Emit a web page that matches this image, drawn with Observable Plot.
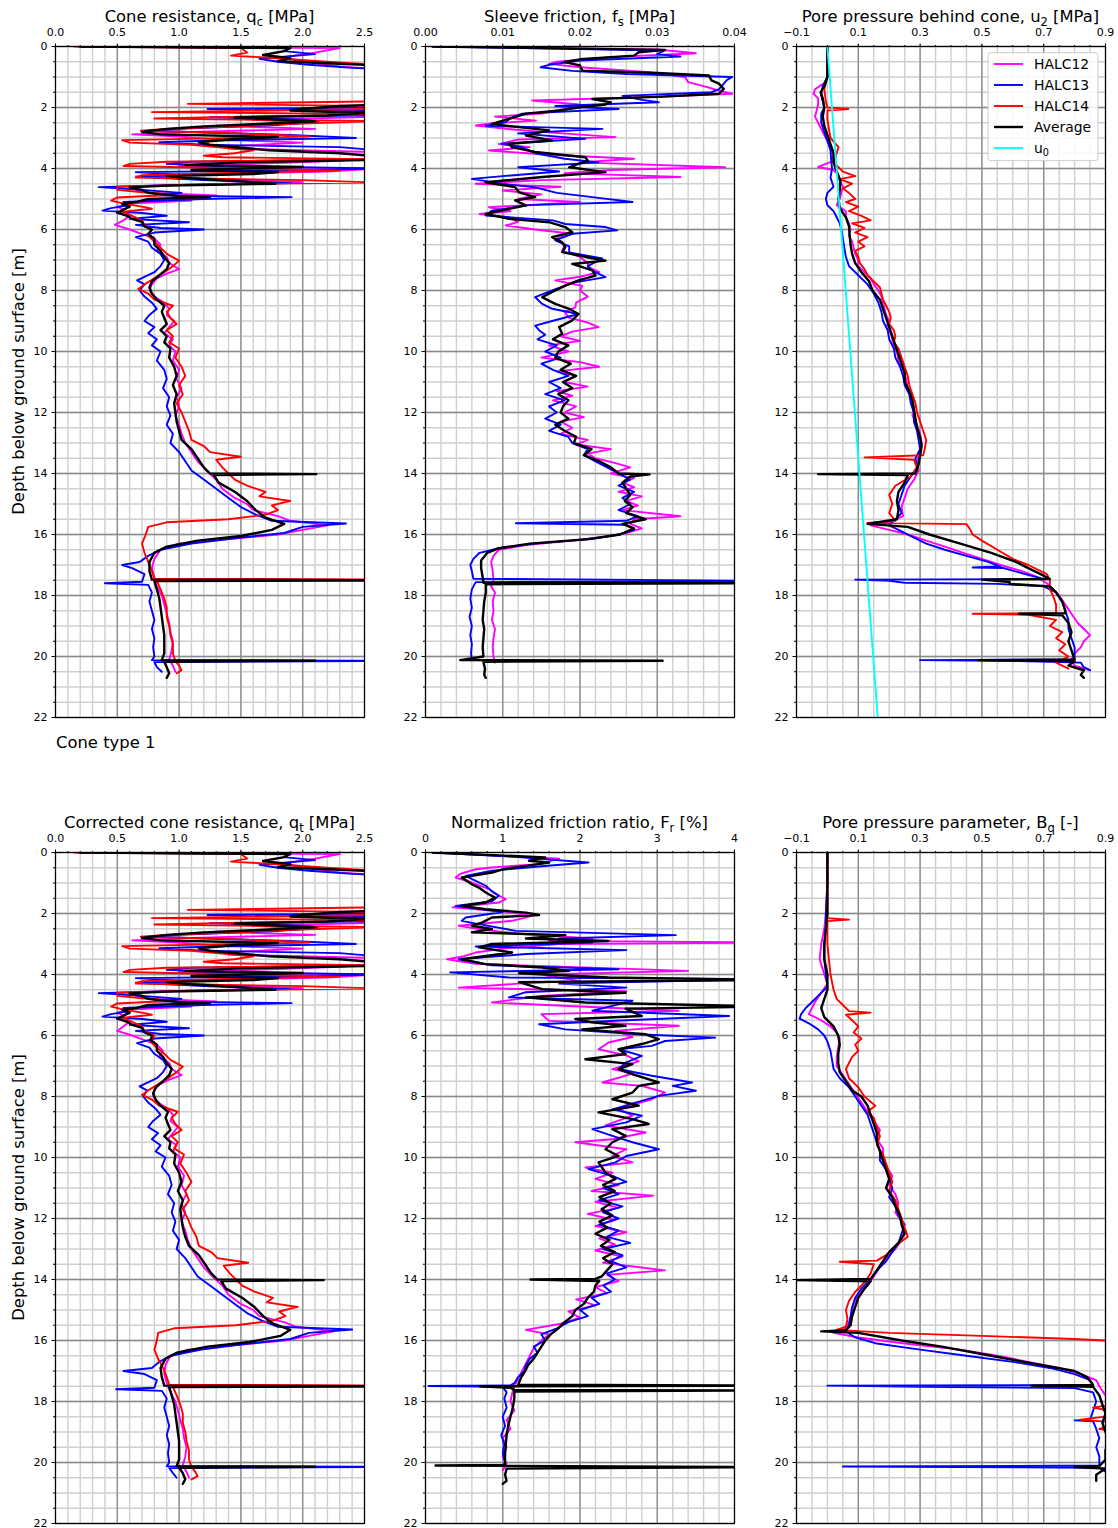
<!DOCTYPE html>
<html><head><meta charset="utf-8">
<script src="https://cdn.jsdelivr.net/npm/d3@7"></script>
<script src="https://cdn.jsdelivr.net/npm/@observablehq/plot@0.6"></script>
<style>
body{margin:0;background:#fff;}
#chart{position:relative;width:1118px;height:1528px;font-family:"DejaVu Sans";}
#chart svg{position:absolute;overflow:visible;}
</style>
</head><body><div id="chart"></div>
<script>
// ---------------- DATA: [depth (m), value] ----------------
// Cone resistance qc [MPa]
const qc_HALC12 = [[0,0.18],[0.05,2.3],[0.2,2.1],[0.35,1.85],[0.5,2.0],[0.65,2.3],[0.75,2.6],[1.0,3.0],[1.8,3.0],[1.95,2.6],[2.05,1.9],[2.15,2.5],[2.3,2.6],[2.4,1.6],[2.5,2.05],[2.6,1.3],[2.7,2.1],[2.8,1.1],[2.88,0.62],[2.95,1.0],[3.05,1.3],[3.15,2.0],[3.25,1.5],[3.35,1.4],[3.45,2.5],[3.6,2.7],[3.75,2.3],[3.85,1.6],[3.92,1.0],[4.0,2.6],[4.1,2.2],[4.18,1.2],[4.26,0.65],[4.35,1.4],[4.45,2.0],[4.52,1.1],[4.6,0.6],[4.7,0.65],[4.8,0.8],[4.88,1.3],[4.95,1.0],[5.05,1.1],[5.15,0.6],[5.25,0.5],[5.35,0.55],[5.45,0.5],[5.55,0.6],[5.7,0.55],[5.85,0.48],[6.0,0.6],[6.15,0.7],[6.3,0.8],[6.5,0.85],[6.7,0.82],[6.9,0.9],[7.1,0.92],[7.3,1.0],[7.45,0.9],[7.6,0.82],[7.8,0.78],[8.0,0.76],[8.2,0.8],[8.4,0.88],[8.6,0.92],[8.8,0.9],[9.0,0.96],[9.2,0.92],[9.4,0.88],[9.6,0.95],[9.8,0.92],[10.0,0.97],[10.3,0.95],[10.6,1.0],[10.9,0.98],[11.2,1.02],[11.5,0.98],[11.8,1.0],[12.1,0.97],[12.4,1.0],[12.7,1.02],[13.0,1.05],[13.3,1.1],[13.6,1.15],[13.9,1.22],[14.2,1.3],[14.5,1.35],[14.8,1.45],[15.0,1.55],[15.2,1.6],[15.4,1.8],[15.55,1.9],[15.7,2.2],[15.85,2.0],[16.0,1.8],[16.15,1.4],[16.3,1.0],[16.5,0.85],[16.8,0.8],[17.1,0.78],[17.4,0.8],[17.7,0.82],[18.0,0.86],[18.3,0.88],[18.6,0.9],[18.9,0.92],[19.2,0.93],[19.5,0.95],[19.8,0.94],[20.1,0.92],[20.3,0.95],[20.5,0.97]];
const qc_HALC13 = [[0,0.2],[0.05,1.9],[0.15,1.85],[0.25,2.1],[0.4,1.65],[0.5,1.8],[0.6,2.05],[0.7,2.4],[0.8,3.0],[1.9,3.0],[2.0,2.6],[2.05,1.23],[2.12,2.6],[2.25,2.6],[2.32,1.25],[2.4,2.0],[2.48,2.13],[2.58,1.75],[2.68,1.1],[2.75,0.75],[2.82,1.2],[2.9,1.9],[3.0,2.43],[3.08,1.3],[3.14,0.84],[3.22,1.2],[3.3,2.3],[3.4,2.6],[3.55,2.7],[3.7,2.6],[3.78,1.1],[3.85,0.9],[3.92,1.3],[4.0,2.6],[4.08,1.5],[4.12,0.65],[4.2,1.0],[4.28,0.7],[4.38,1.2],[4.48,1.9],[4.55,0.9],[4.61,0.35],[4.7,0.7],[4.8,1.02],[4.88,0.8],[4.94,1.91],[5.0,1.2],[5.1,0.55],[5.2,0.6],[5.3,0.45],[5.38,0.38],[5.46,0.7],[5.55,0.9],[5.65,0.6],[5.76,1.08],[5.85,0.65],[5.95,0.85],[6.0,1.2],[6.1,0.8],[6.25,0.65],[6.4,0.75],[6.6,0.78],[6.8,0.85],[7.0,0.88],[7.2,0.85],[7.4,0.8],[7.55,0.72],[7.67,0.66],[7.8,0.72],[8.0,0.68],[8.2,0.72],[8.4,0.78],[8.6,0.82],[8.8,0.76],[9.0,0.72],[9.2,0.8],[9.4,0.75],[9.6,0.82],[9.8,0.78],[10.0,0.85],[10.3,0.82],[10.6,0.88],[10.9,0.9],[11.2,0.87],[11.5,0.92],[11.8,0.9],[12.1,0.93],[12.4,0.9],[12.7,0.95],[13.0,0.93],[13.3,1.0],[13.6,1.05],[13.9,1.1],[14.2,1.2],[14.5,1.3],[14.8,1.4],[15.1,1.5],[15.35,1.62],[15.55,1.75],[15.64,2.35],[15.75,2.0],[15.95,1.85],[16.1,1.5],[16.3,1.1],[16.5,0.85],[16.7,0.75],[16.9,0.68],[17.0,0.54],[17.1,0.62],[17.3,0.72],[17.55,0.7],[17.6,0.4],[17.65,0.75],[17.9,0.78],[18.2,0.76],[18.5,0.78],[18.8,0.8],[19.1,0.78],[19.4,0.8],[19.7,0.79],[20.0,0.8],[20.12,0.78],[20.14,3.0],[20.18,0.8],[20.35,0.82],[20.5,0.86]];
const qc_HALC14 = [[0,0.15],[0.05,1.5],[0.2,1.55],[0.3,1.42],[0.36,1.7],[0.5,2.2],[0.6,2.6],[0.7,3.0],[1.75,3.0],[1.8,2.6],[1.88,1.07],[1.95,2.6],[2.05,2.6],[2.15,0.78],[2.22,2.6],[2.3,1.5],[2.36,0.8],[2.45,2.6],[2.55,1.8],[2.62,1.5],[2.7,0.9],[2.76,0.69],[2.85,1.5],[2.95,2.06],[3.02,1.2],[3.07,0.54],[3.15,0.6],[3.22,1.1],[3.3,1.3],[3.4,1.6],[3.5,1.45],[3.58,1.2],[3.63,1.35],[3.7,2.6],[3.78,0.9],[3.85,0.6],[3.92,0.55],[4.0,1.5],[4.07,2.3],[4.15,1.3],[4.22,0.7],[4.3,0.65],[4.38,2.0],[4.46,2.6],[4.52,1.2],[4.6,0.5],[4.7,0.5],[4.78,0.7],[4.86,0.95],[4.95,0.5],[5.05,0.45],[5.15,0.55],[5.25,0.7],[5.32,0.78],[5.42,0.55],[5.55,0.62],[5.7,0.7],[5.85,0.72],[6.0,0.78],[6.2,0.75],[6.4,0.8],[6.6,0.85],[6.8,0.9],[7.02,1.0],[7.2,0.95],[7.4,0.88],[7.6,0.8],[7.8,0.72],[7.95,0.67],[8.1,0.75],[8.3,0.8],[8.5,0.95],[8.7,0.9],[8.9,0.93],[9.1,0.98],[9.3,0.9],[9.5,0.95],[9.7,0.92],[9.9,1.0],[10.2,0.97],[10.5,1.02],[10.8,1.05],[11.1,1.0],[11.4,1.03],[11.7,0.98],[12.0,1.02],[12.3,1.05],[12.6,1.08],[12.9,1.1],[13.1,1.2],[13.3,1.25],[13.45,1.5],[13.55,1.3],[13.8,1.35],[14.0,1.4],[14.2,1.45],[14.4,1.55],[14.6,1.7],[14.75,1.65],[14.9,1.9],[15.05,1.75],[15.2,1.8],[15.35,1.7],[15.5,1.4],[15.6,0.9],[15.75,0.75],[16.0,0.73],[16.3,0.7],[16.6,0.72],[16.9,0.75],[17.2,0.78],[17.45,0.8],[17.48,3.0],[17.52,0.82],[17.8,0.85],[18.1,0.88],[18.4,0.9],[18.7,0.9],[19.0,0.92],[19.3,0.93],[19.6,0.95],[19.9,0.95],[20.15,0.97],[20.3,1.0],[20.45,1.02],[20.55,0.98]];
const qc_Average = [[0,0.2],[0.05,1.9],[0.15,1.85],[0.28,1.68],[0.38,1.9],[0.48,1.8],[0.55,2.2],[0.62,2.6],[0.7,3.0],[1.85,3.0],[1.95,2.3],[2.04,2.02],[2.1,1.9],[2.18,2.5],[2.26,2.2],[2.33,1.45],[2.45,2.1],[2.55,1.6],[2.62,1.2],[2.7,0.9],[2.8,0.7],[2.88,0.85],[2.97,1.8],[3.05,1.4],[3.14,1.16],[3.22,1.25],[3.32,1.5],[3.4,1.73],[3.5,2.3],[3.6,2.6],[3.72,2.55],[3.8,1.5],[3.88,1.05],[3.95,2.0],[4.05,1.1],[4.12,1.8],[4.18,1.6],[4.25,0.9],[4.32,1.1],[4.42,1.5],[4.5,1.78],[4.56,0.9],[4.62,0.6],[4.7,0.7],[4.8,0.75],[4.9,1.0],[4.94,1.25],[5.0,0.75],[5.1,0.65],[5.16,0.54],[5.25,0.6],[5.35,0.55],[5.45,0.5],[5.55,0.58],[5.65,0.62],[5.75,0.7],[5.9,0.72],[6.0,0.78],[6.15,0.75],[6.3,0.8],[6.5,0.8],[6.7,0.85],[6.9,0.88],[7.1,0.92],[7.3,0.9],[7.5,0.84],[7.7,0.78],[7.9,0.76],[8.1,0.78],[8.3,0.82],[8.5,0.88],[8.7,0.86],[8.9,0.88],[9.1,0.9],[9.3,0.85],[9.5,0.9],[9.7,0.88],[9.9,0.93],[10.2,0.92],[10.5,0.96],[10.8,0.98],[11.1,0.95],[11.4,0.98],[11.7,0.96],[12.0,0.97],[12.3,0.98],[12.6,1.0],[12.9,1.02],[13.2,1.1],[13.5,1.15],[13.8,1.2],[14.0,1.25],[14.02,2.11],[14.05,1.28],[14.3,1.32],[14.6,1.45],[14.9,1.55],[15.2,1.62],[15.45,1.7],[15.65,1.85],[15.85,1.75],[16.05,1.5],[16.2,1.15],[16.4,0.9],[16.6,0.8],[16.9,0.76],[17.2,0.76],[17.48,0.78],[17.5,3.0],[17.53,0.8],[17.8,0.82],[18.1,0.84],[18.4,0.85],[18.7,0.86],[19.0,0.87],[19.3,0.88],[19.6,0.88],[19.9,0.88],[20.12,0.86],[20.14,2.1],[20.17,0.88],[20.35,0.9],[20.55,0.92],[20.7,0.9]];

// Sleeve friction fs [MPa]
const fs_HALC12 = [[0,0.001],[0.1,0.03],[0.22,0.035],[0.35,0.024],[0.5,0.017],[0.57,0.016],[0.68,0.02],[0.84,0.029],[1.0,0.0336],[1.17,0.034],[1.33,0.0365],[1.45,0.038],[1.55,0.0397],[1.65,0.03],[1.77,0.0138],[1.9,0.02],[2.05,0.018],[2.2,0.015],[2.3,0.009],[2.43,0.0143],[2.52,0.0085],[2.59,0.0065],[2.7,0.0105],[2.8,0.015],[2.97,0.0246],[3.05,0.012],[3.2,0.0095],[3.3,0.0135],[3.41,0.0082],[3.55,0.016],[3.68,0.027],[3.8,0.02],[3.96,0.0388],[4.05,0.024],[4.15,0.018],[4.28,0.033],[4.38,0.015],[4.5,0.0065],[4.6,0.0175],[4.72,0.01],[4.85,0.015],[5.0,0.012],[5.1,0.02],[5.27,0.0082],[5.4,0.011],[5.49,0.007],[5.6,0.0108],[5.75,0.012],[5.87,0.0104],[6.0,0.0142],[6.14,0.019],[6.3,0.017],[6.5,0.018],[6.7,0.0177],[6.9,0.02],[7.1,0.021],[7.23,0.0211],[7.4,0.0225],[7.55,0.02],[7.67,0.0168],[7.85,0.0203],[8.0,0.02],[8.2,0.021],[8.4,0.0195],[8.55,0.0194],[8.7,0.018],[8.9,0.0186],[9.05,0.021],[9.2,0.0224],[9.35,0.019],[9.5,0.0175],[9.65,0.02],[9.8,0.016],[10.0,0.0185],[10.2,0.015],[10.35,0.02],[10.5,0.0225],[10.65,0.017],[10.8,0.0195],[11.0,0.018],[11.15,0.021],[11.3,0.017],[11.45,0.019],[11.6,0.0165],[11.8,0.0195],[12.0,0.018],[12.15,0.0205],[12.3,0.0175],[12.5,0.019],[12.7,0.0175],[12.9,0.021],[13.05,0.0195],[13.2,0.024],[13.35,0.021],[13.5,0.022],[13.65,0.0245],[13.8,0.0265],[14.0,0.024],[14.15,0.027],[14.3,0.0255],[14.45,0.027],[14.6,0.025],[14.75,0.028],[14.9,0.026],[15.05,0.0275],[15.2,0.0255],[15.4,0.033],[15.5,0.027],[15.65,0.0265],[15.8,0.028],[15.95,0.026],[16.05,0.024],[16.2,0.019],[16.35,0.013],[16.5,0.0095],[16.7,0.0088],[16.9,0.0085],[17.2,0.0087],[17.5,0.0088],[17.7,0.0085],[17.9,0.009],[18.2,0.0087],[18.5,0.0088],[18.8,0.0086],[19.1,0.009],[19.4,0.0088],[19.7,0.0087],[20.0,0.0088],[20.2,0.009]];
const fs_HALC13 = [[0,0.001],[0.13,0.031],[0.25,0.03],[0.33,0.033],[0.46,0.02],[0.6,0.016],[0.68,0.0149],[0.8,0.019],[0.9,0.026],[1.0,0.0397],[1.1,0.039],[1.25,0.0385],[1.4,0.038],[1.5,0.037],[1.62,0.0255],[1.75,0.028],[1.83,0.0302],[1.95,0.0168],[2.05,0.025],[2.2,0.0125],[2.35,0.011],[2.48,0.0104],[2.6,0.0078],[2.7,0.0229],[2.85,0.012],[3.03,0.0207],[3.19,0.0099],[3.3,0.0125],[3.5,0.0142],[3.68,0.018],[3.8,0.0224],[3.96,0.012],[4.1,0.0173],[4.25,0.01],[4.34,0.006],[4.5,0.0099],[4.62,0.0142],[4.8,0.017],[4.94,0.0216],[5.1,0.0268],[5.2,0.0134],[5.38,0.0086],[5.54,0.0078],[5.7,0.0165],[5.82,0.0181],[5.92,0.0233],[6.03,0.0248],[6.14,0.019],[6.36,0.0168],[6.55,0.0186],[6.75,0.0186],[6.95,0.0229],[7.2,0.021],[7.35,0.0216],[7.56,0.0233],[7.75,0.019],[8.0,0.0164],[8.22,0.0142],[8.44,0.0151],[8.6,0.0164],[8.77,0.0198],[9.0,0.0164],[9.15,0.0142],[9.3,0.0147],[9.45,0.0155],[9.6,0.0145],[9.8,0.017],[10.0,0.0155],[10.2,0.0175],[10.4,0.015],[10.6,0.0165],[10.8,0.0185],[11.0,0.016],[11.2,0.0175],[11.4,0.0155],[11.6,0.018],[11.8,0.016],[12.0,0.017],[12.2,0.0155],[12.4,0.0175],[12.6,0.016],[12.8,0.0185],[13.0,0.019],[13.2,0.021],[13.4,0.0205],[13.6,0.022],[13.8,0.0235],[14.0,0.025],[14.2,0.0265],[14.4,0.025],[14.6,0.027],[14.8,0.0255],[15.0,0.0265],[15.2,0.025],[15.4,0.0275],[15.55,0.026],[15.63,0.0117],[15.68,0.026],[15.85,0.027],[16.0,0.025],[16.15,0.0215],[16.3,0.014],[16.45,0.0095],[16.6,0.007],[16.8,0.0062],[17.0,0.0058],[17.2,0.006],[17.45,0.0062],[17.52,0.045],[17.56,0.0065],[17.8,0.006],[18.1,0.0058],[18.4,0.006],[18.7,0.0057],[19.0,0.006],[19.3,0.0058],[19.6,0.006],[19.9,0.0059],[20.1,0.006]];
const fs_Average = [[0,0.0009],[0.11,0.031],[0.19,0.0276],[0.3,0.027],[0.42,0.02],[0.51,0.018],[0.62,0.02],[0.79,0.0203],[0.87,0.03],[0.95,0.0367],[1.11,0.037],[1.22,0.038],[1.39,0.0386],[1.55,0.038],[1.65,0.03],[1.72,0.0216],[1.83,0.024],[1.9,0.0233],[1.99,0.02],[2.1,0.0173],[2.2,0.013],[2.37,0.0108],[2.54,0.0086],[2.62,0.0112],[2.75,0.016],[2.92,0.013],[3.08,0.0164],[3.19,0.0108],[3.3,0.0112],[3.46,0.0142],[3.63,0.0207],[3.75,0.021],[3.85,0.0198],[3.96,0.0186],[4.12,0.0233],[4.28,0.0151],[4.45,0.0078],[4.61,0.0116],[4.78,0.0121],[4.94,0.0142],[5.05,0.0116],[5.21,0.013],[5.32,0.0108],[5.49,0.0078],[5.65,0.0108],[5.76,0.016],[5.92,0.0181],[6.09,0.019],[6.25,0.0164],[6.42,0.0177],[6.58,0.0181],[6.74,0.0177],[6.9,0.0207],[7.02,0.0233],[7.13,0.019],[7.34,0.0216],[7.51,0.022],[7.67,0.0198],[7.84,0.0181],[8.05,0.0164],[8.22,0.0151],[8.44,0.0168],[8.6,0.0186],[8.77,0.0198],[8.98,0.019],[9.2,0.0173],[9.42,0.0177],[9.6,0.0165],[9.8,0.0185],[10.0,0.0172],[10.2,0.0168],[10.4,0.0188],[10.6,0.0175],[10.8,0.0195],[11.0,0.0178],[11.2,0.019],[11.4,0.0172],[11.6,0.0185],[11.8,0.0178],[12.0,0.0175],[12.2,0.0185],[12.4,0.0168],[12.6,0.018],[12.8,0.0195],[13.0,0.0192],[13.2,0.0215],[13.4,0.0205],[13.6,0.0225],[13.8,0.024],[14.0,0.025],[14.03,0.029],[14.1,0.0265],[14.3,0.0255],[14.5,0.026],[14.7,0.0265],[14.9,0.0258],[15.1,0.0268],[15.3,0.026],[15.5,0.0285],[15.65,0.0255],[15.8,0.027],[16.0,0.0252],[16.15,0.021],[16.3,0.0135],[16.45,0.0095],[16.6,0.008],[16.85,0.0072],[17.1,0.0072],[17.4,0.0074],[17.58,0.0075],[17.6,0.045],[17.63,0.0078],[17.9,0.0078],[18.2,0.0076],[18.5,0.0075],[18.8,0.0074],[19.1,0.0076],[19.4,0.0075],[19.7,0.0074],[20.0,0.0075],[20.12,0.0045],[20.14,0.0307],[20.17,0.0075],[20.4,0.0077],[20.6,0.0076],[20.7,0.0078]];

// Pore pressure u2 [MPa]
const u2_HALC12 = [[0,0.0],[0.5,0.0],[1.0,0.0],[1.2,-0.01],[1.4,-0.04],[1.55,-0.045],[1.7,-0.03],[1.9,-0.03],[2.1,-0.035],[2.3,-0.04],[2.5,-0.03],[2.7,-0.02],[2.9,-0.01],[3.1,0.0],[3.3,0.01],[3.5,0.015],[3.75,0.02],[3.95,-0.03],[4.05,0.02],[4.2,0.035],[4.4,0.04],[4.6,0.05],[4.8,0.045],[5.0,0.04],[5.2,0.03],[5.4,0.06],[5.6,0.06],[5.8,0.07],[6.0,0.075],[6.2,0.07],[6.4,0.08],[6.6,0.085],[6.8,0.09],[7.0,0.1],[7.2,0.1],[7.4,0.12],[7.6,0.14],[7.8,0.15],[8.0,0.165],[8.2,0.175],[8.4,0.18],[8.6,0.185],[8.8,0.19],[9.0,0.2],[9.2,0.19],[9.4,0.205],[9.6,0.21],[9.8,0.215],[10.0,0.225],[10.3,0.23],[10.6,0.245],[10.9,0.255],[11.2,0.26],[11.5,0.27],[11.8,0.28],[12.1,0.275],[12.4,0.29],[12.7,0.3],[13.0,0.305],[13.3,0.3],[13.6,0.29],[13.9,0.295],[14.2,0.28],[14.5,0.26],[14.8,0.25],[15.1,0.24],[15.4,0.245],[15.6,0.2],[15.7,0.14],[15.85,0.2],[16.0,0.26],[16.2,0.32],[16.4,0.38],[16.6,0.44],[16.8,0.5],[17.0,0.56],[17.2,0.63],[17.4,0.68],[17.6,0.71],[17.8,0.73],[18.0,0.75],[18.3,0.77],[18.6,0.79],[18.9,0.81],[19.1,0.83],[19.3,0.85],[19.5,0.83],[19.7,0.82],[19.9,0.8],[20.1,0.79],[20.3,0.8],[20.45,0.85]];
const u2_HALC13 = [[0,0.0],[1.0,0.0],[1.3,-0.015],[1.6,-0.02],[2.0,-0.01],[2.2,-0.02],[2.5,-0.02],[2.8,-0.01],[3.1,0.0],[3.4,0.01],[3.7,0.012],[4.0,0.015],[4.3,0.01],[4.6,0.02],[4.8,0.0],[5.0,-0.005],[5.2,0.0],[5.4,0.02],[5.6,0.03],[5.8,0.04],[6.0,0.045],[6.3,0.05],[6.6,0.055],[6.9,0.06],[7.2,0.07],[7.5,0.1],[7.8,0.13],[8.1,0.15],[8.4,0.165],[8.7,0.175],[9.0,0.18],[9.3,0.195],[9.6,0.2],[9.9,0.215],[10.2,0.22],[10.5,0.235],[10.8,0.245],[11.1,0.25],[11.4,0.265],[11.7,0.27],[12.0,0.28],[12.3,0.28],[12.6,0.29],[12.9,0.295],[13.2,0.3],[13.5,0.285],[13.8,0.29],[14.1,0.27],[14.4,0.25],[14.7,0.24],[15.0,0.23],[15.3,0.24],[15.5,0.22],[15.7,0.2],[15.9,0.24],[16.1,0.28],[16.3,0.32],[16.5,0.38],[16.7,0.45],[16.9,0.52],[17.05,0.56],[17.08,0.47],[17.1,0.57],[17.3,0.64],[17.46,0.7],[17.48,0.09],[17.52,0.2],[17.58,0.25],[17.62,0.55],[17.7,0.7],[17.9,0.74],[18.2,0.76],[18.5,0.77],[18.8,0.78],[19.1,0.78],[19.4,0.79],[19.7,0.8],[20.0,0.8],[20.1,0.8],[20.12,0.3],[20.15,0.62],[20.2,0.82],[20.35,0.83],[20.45,0.85]];
const u2_HALC14 = [[0,0.0],[1.0,0.0],[1.4,-0.01],[1.8,-0.005],[2.0,0.0],[2.05,0.068],[2.1,0.0],[2.4,0.0],[2.7,0.005],[3.0,0.01],[3.3,0.036],[3.5,0.03],[3.8,0.02],[4.1,0.05],[4.25,0.09],[4.35,0.04],[4.5,0.08],[4.65,0.05],[4.8,0.07],[5.0,0.09],[5.1,0.06],[5.25,0.1],[5.4,0.07],[5.55,0.11],[5.7,0.14],[5.8,0.08],[5.95,0.12],[6.1,0.09],[6.25,0.13],[6.4,0.1],[6.55,0.12],[6.7,0.09],[6.9,0.1],[7.1,0.105],[7.3,0.12],[7.5,0.13],[7.7,0.15],[7.9,0.17],[8.1,0.175],[8.3,0.18],[8.5,0.19],[8.7,0.2],[8.9,0.205],[9.1,0.2],[9.3,0.215],[9.5,0.22],[9.7,0.215],[9.9,0.23],[10.2,0.24],[10.5,0.25],[10.8,0.26],[11.1,0.265],[11.4,0.275],[11.7,0.285],[12.0,0.29],[12.3,0.3],[12.6,0.31],[12.9,0.32],[13.2,0.315],[13.4,0.31],[13.47,0.12],[13.55,0.28],[13.8,0.29],[14.1,0.27],[14.4,0.22],[14.7,0.2],[15.0,0.21],[15.3,0.2],[15.55,0.22],[15.62,0.13],[15.66,0.45],[15.8,0.46],[16.0,0.47],[16.2,0.5],[16.5,0.55],[16.8,0.6],[17.0,0.65],[17.3,0.71],[17.5,0.72],[17.8,0.72],[18.0,0.73],[18.3,0.74],[18.58,0.74],[18.6,0.47],[18.63,0.65],[18.8,0.74],[19.0,0.72],[19.2,0.76],[19.4,0.74],[19.6,0.77],[19.8,0.75],[20.0,0.78],[20.2,0.74],[20.3,0.76],[20.4,0.78]];
const u2_Average = [[0,0.0],[1.0,0.0],[1.3,-0.01],[1.5,-0.022],[1.7,-0.015],[2.0,-0.01],[2.3,-0.015],[2.6,-0.01],[2.9,0.0],[3.2,0.01],[3.5,0.02],[3.8,0.02],[4.1,0.03],[4.4,0.042],[4.7,0.04],[5.0,0.036],[5.3,0.04],[5.6,0.06],[5.9,0.07],[6.2,0.072],[6.5,0.075],[6.8,0.08],[7.1,0.09],[7.4,0.11],[7.7,0.135],[8.0,0.146],[8.3,0.17],[8.6,0.18],[8.9,0.19],[9.2,0.2],[9.5,0.21],[9.8,0.22],[10.1,0.23],[10.4,0.24],[10.7,0.25],[11.0,0.25],[11.3,0.265],[11.6,0.275],[11.9,0.28],[12.2,0.285],[12.5,0.29],[12.8,0.3],[13.1,0.305],[13.4,0.3],[13.7,0.295],[14.0,0.285],[14.02,-0.03],[14.05,0.26],[14.3,0.25],[14.6,0.23],[14.9,0.225],[15.2,0.23],[15.5,0.225],[15.65,0.13],[15.75,0.26],[16.0,0.33],[16.3,0.43],[16.6,0.53],[16.9,0.61],[17.1,0.65],[17.3,0.69],[17.46,0.72],[17.48,0.5],[17.56,0.59],[17.62,0.59],[17.7,0.72],[17.9,0.74],[18.2,0.76],[18.5,0.77],[18.58,0.77],[18.6,0.62],[18.65,0.76],[18.9,0.78],[19.2,0.79],[19.5,0.78],[19.8,0.79],[20.1,0.8],[20.12,0.49],[20.15,0.8],[20.3,0.78],[20.45,0.83],[20.6,0.82],[20.7,0.83]];
const u0_line = [[0,0.0],[22,0.163]];

// Corrected cone resistance qt [MPa]
const qt_HALC12 = [[0,0.18],[0.05,2.3],[0.2,2.1],[0.35,1.85],[0.5,2.0],[0.65,2.3],[0.75,2.6],[1.0,3.0],[1.8,3.0],[1.95,2.6],[2.05,1.9],[2.15,2.5],[2.3,2.6],[2.4,1.6],[2.5,2.05],[2.6,1.3],[2.7,2.1],[2.8,1.1],[2.88,0.62],[2.95,1.0],[3.05,1.3],[3.15,2.0],[3.25,1.5],[3.35,1.4],[3.45,2.5],[3.6,2.7],[3.75,2.3],[3.85,1.6],[3.92,1.0],[4.0,2.6],[4.1,2.2],[4.18,1.2],[4.26,0.65],[4.35,1.4],[4.45,2.0],[4.52,1.1],[4.6,0.6],[4.7,0.65],[4.8,0.8],[4.88,1.3],[4.95,1.0],[5.05,1.1],[5.15,0.6],[5.25,0.5],[5.35,0.55],[5.45,0.5],[5.55,0.6],[5.7,0.55],[5.85,0.5],[6.0,0.62],[6.15,0.72],[6.3,0.82],[6.5,0.87],[6.7,0.84],[6.9,0.92],[7.1,0.94],[7.3,1.02],[7.45,0.92],[7.6,0.84],[7.8,0.8],[8.0,0.79],[8.2,0.83],[8.4,0.91],[8.6,0.95],[8.8,0.93],[9.0,0.99],[9.2,0.95],[9.4,0.91],[9.6,0.98],[9.8,0.95],[10.0,1.01],[10.3,0.99],[10.6,1.04],[10.9,1.02],[11.2,1.06],[11.5,1.02],[11.8,1.05],[12.1,1.02],[12.4,1.05],[12.7,1.07],[13.0,1.1],[13.3,1.15],[13.6,1.2],[13.9,1.27],[14.2,1.35],[14.5,1.4],[14.8,1.5],[15.0,1.6],[15.2,1.65],[15.4,1.85],[15.55,1.95],[15.7,2.25],[15.85,2.05],[16.0,1.85],[16.15,1.46],[16.3,1.07],[16.5,0.93],[16.8,0.89],[17.1,0.88],[17.4,0.9],[17.7,0.93],[18.0,0.97],[18.3,0.99],[18.6,1.01],[18.9,1.03],[19.2,1.04],[19.5,1.06],[19.8,1.05],[20.1,1.03],[20.3,1.06],[20.5,1.08]];
const qt_HALC13 = [[0,0.2],[0.05,1.9],[0.15,1.85],[0.25,2.1],[0.4,1.65],[0.5,1.8],[0.6,2.05],[0.7,2.4],[0.8,3.0],[1.9,3.0],[2.0,2.6],[2.05,1.23],[2.12,2.6],[2.25,2.6],[2.32,1.25],[2.4,2.0],[2.48,2.13],[2.58,1.75],[2.68,1.1],[2.75,0.75],[2.82,1.2],[2.9,1.9],[3.0,2.43],[3.08,1.3],[3.14,0.84],[3.22,1.2],[3.3,2.3],[3.4,2.6],[3.55,2.7],[3.7,2.6],[3.78,1.1],[3.85,0.9],[3.92,1.3],[4.0,2.6],[4.08,1.5],[4.12,0.65],[4.2,1.0],[4.28,0.7],[4.38,1.2],[4.48,1.9],[4.55,0.9],[4.61,0.35],[4.7,0.7],[4.8,1.02],[4.88,0.8],[4.94,1.91],[5.0,1.2],[5.1,0.55],[5.2,0.6],[5.3,0.45],[5.38,0.38],[5.46,0.7],[5.55,0.9],[5.65,0.6],[5.76,1.08],[5.85,0.65],[5.95,0.85],[6.0,1.2],[6.1,0.8],[6.25,0.66],[6.4,0.76],[6.6,0.8],[6.8,0.87],[7.0,0.9],[7.2,0.87],[7.4,0.82],[7.55,0.74],[7.67,0.68],[7.8,0.74],[8.0,0.71],[8.2,0.75],[8.4,0.81],[8.6,0.85],[8.8,0.79],[9.0,0.75],[9.2,0.83],[9.4,0.78],[9.6,0.85],[9.8,0.81],[10.0,0.89],[10.3,0.86],[10.6,0.92],[10.9,0.94],[11.2,0.91],[11.5,0.96],[11.8,0.94],[12.1,0.97],[12.4,0.95],[12.7,1.0],[13.0,0.98],[13.3,1.05],[13.6,1.1],[13.9,1.15],[14.2,1.25],[14.5,1.35],[14.8,1.45],[15.1,1.55],[15.35,1.67],[15.55,1.8],[15.64,2.4],[15.75,2.05],[15.95,1.9],[16.1,1.56],[16.3,1.18],[16.5,0.93],[16.7,0.84],[16.9,0.78],[17.0,0.55],[17.1,0.72],[17.3,0.82],[17.55,0.8],[17.6,0.49],[17.65,0.86],[17.9,0.9],[18.2,0.88],[18.5,0.9],[18.8,0.92],[19.1,0.9],[19.4,0.92],[19.7,0.91],[20.0,0.92],[20.12,0.9],[20.14,3.0],[20.18,0.92],[20.35,0.95],[20.5,0.98]];
const qt_HALC14 = [[0,0.15],[0.05,1.5],[0.2,1.55],[0.3,1.42],[0.36,1.7],[0.5,2.2],[0.6,2.6],[0.7,3.0],[1.75,3.0],[1.8,2.6],[1.88,1.07],[1.95,2.6],[2.05,2.6],[2.15,0.78],[2.22,2.6],[2.3,1.5],[2.36,0.8],[2.45,2.6],[2.55,1.8],[2.62,1.5],[2.7,0.9],[2.76,0.69],[2.85,1.5],[2.95,2.06],[3.02,1.2],[3.07,0.54],[3.15,0.6],[3.22,1.1],[3.3,1.3],[3.4,1.6],[3.5,1.45],[3.58,1.2],[3.63,1.35],[3.7,2.6],[3.78,0.9],[3.85,0.6],[3.92,0.55],[4.0,1.5],[4.07,2.3],[4.15,1.3],[4.22,0.7],[4.3,0.65],[4.38,2.0],[4.46,2.6],[4.52,1.2],[4.6,0.5],[4.7,0.5],[4.78,0.7],[4.86,0.95],[4.95,0.5],[5.05,0.45],[5.15,0.55],[5.25,0.7],[5.32,0.78],[5.42,0.55],[5.55,0.62],[5.7,0.7],[5.85,0.72],[6.0,0.8],[6.2,0.77],[6.4,0.82],[6.6,0.88],[6.8,0.93],[7.02,1.03],[7.2,0.98],[7.4,0.91],[7.6,0.83],[7.8,0.75],[7.95,0.7],[8.1,0.78],[8.3,0.84],[8.5,0.99],[8.7,0.94],[8.9,0.97],[9.1,1.02],[9.3,0.94],[9.5,0.99],[9.7,0.96],[9.9,1.04],[10.2,1.01],[10.5,1.06],[10.8,1.1],[11.1,1.05],[11.4,1.08],[11.7,1.03],[12.0,1.07],[12.3,1.1],[12.6,1.14],[12.9,1.16],[13.1,1.26],[13.3,1.31],[13.45,1.56],[13.55,1.36],[13.8,1.41],[14.0,1.46],[14.2,1.51],[14.4,1.61],[14.6,1.76],[14.75,1.71],[14.9,1.96],[15.05,1.81],[15.2,1.86],[15.35,1.76],[15.5,1.46],[15.6,0.96],[15.75,0.83],[16.0,0.82],[16.3,0.8],[16.6,0.83],[16.9,0.87],[17.2,0.9],[17.45,0.92],[17.48,3.0],[17.52,0.95],[17.8,0.98],[18.1,1.01],[18.4,1.03],[18.7,1.03],[19.0,1.05],[19.3,1.06],[19.6,1.08],[19.9,1.08],[20.15,1.1],[20.3,1.13],[20.45,1.15],[20.55,1.1]];
const qt_Average = [[0,0.2],[0.05,1.9],[0.15,1.85],[0.28,1.68],[0.38,1.9],[0.48,1.8],[0.55,2.2],[0.62,2.6],[0.7,3.0],[1.85,3.0],[1.95,2.3],[2.04,2.02],[2.1,1.9],[2.18,2.5],[2.26,2.2],[2.33,1.45],[2.45,2.1],[2.55,1.6],[2.62,1.2],[2.7,0.9],[2.8,0.7],[2.88,0.85],[2.97,1.8],[3.05,1.4],[3.14,1.16],[3.22,1.25],[3.32,1.5],[3.4,1.73],[3.5,2.3],[3.6,2.6],[3.72,2.55],[3.8,1.5],[3.88,1.05],[3.95,2.0],[4.05,1.1],[4.12,1.8],[4.18,1.6],[4.25,0.9],[4.32,1.1],[4.42,1.5],[4.5,1.78],[4.56,0.9],[4.62,0.6],[4.7,0.7],[4.8,0.75],[4.9,1.0],[4.94,1.25],[5.0,0.75],[5.1,0.65],[5.16,0.54],[5.25,0.6],[5.35,0.55],[5.45,0.5],[5.55,0.58],[5.65,0.62],[5.75,0.7],[5.9,0.72],[6.0,0.78],[6.15,0.77],[6.3,0.82],[6.5,0.82],[6.7,0.87],[6.9,0.9],[7.1,0.94],[7.3,0.92],[7.5,0.87],[7.7,0.81],[7.9,0.79],[8.1,0.81],[8.3,0.85],[8.5,0.91],[8.7,0.89],[8.9,0.91],[9.1,0.93],[9.3,0.88],[9.5,0.93],[9.7,0.92],[9.9,0.97],[10.2,0.96],[10.5,1.0],[10.8,1.02],[11.1,0.99],[11.4,1.03],[11.7,1.01],[12.0,1.02],[12.3,1.03],[12.6,1.05],[12.9,1.08],[13.2,1.16],[13.5,1.21],[13.8,1.26],[14.0,1.31],[14.02,2.17],[14.05,1.34],[14.3,1.38],[14.6,1.51],[14.9,1.61],[15.2,1.68],[15.45,1.76],[15.65,1.9],[15.85,1.82],[16.05,1.57],[16.2,1.23],[16.4,0.98],[16.6,0.89],[16.9,0.85],[17.2,0.86],[17.48,0.88],[17.5,3.0],[17.53,0.92],[17.8,0.94],[18.1,0.96],[18.4,0.97],[18.7,0.98],[19.0,0.99],[19.3,1.0],[19.6,1.0],[19.9,1.0],[20.12,0.98],[20.14,2.1],[20.17,1.0],[20.35,1.03],[20.55,1.05],[20.7,1.03]];

// Normalized friction ratio Fr [%]
const Fr_HALC12 = [[0,0.1],[0.2,1.73],[0.38,1.47],[0.49,0.86],[0.55,0.65],[0.7,0.45],[0.82,0.39],[0.95,0.56],[1.2,0.82],[1.35,0.9],[1.53,1.04],[1.64,0.95],[1.8,0.35],[1.95,1.08],[2.08,1.38],[2.24,1.12],[2.4,0.43],[2.55,0.8],[2.68,1.3],[2.82,2.16],[2.9,1.6],[2.95,4.5],[3.0,1.73],[3.15,1.0],[3.28,0.65],[3.4,0.5],[3.5,0.28],[3.65,0.65],[3.88,3.4],[4.0,1.5],[4.21,1.98],[4.3,1.2],[4.43,0.43],[4.55,2.6],[4.7,1.5],[4.92,0.86],[5.05,2.0],[5.19,3.28],[5.3,1.5],[5.52,1.6],[5.68,3.28],[5.85,2.46],[6.05,2.68],[6.23,2.37],[6.45,2.24],[6.65,2.6],[6.85,2.76],[7.1,2.42],[7.25,2.68],[7.54,2.29],[7.65,2.8],[7.87,3.1],[8.09,2.93],[8.4,2.5],[8.63,2.68],[8.95,2.33],[9.18,2.85],[9.4,2.42],[9.5,1.94],[9.73,2.6],[9.95,2.42],[10.16,2.68],[10.33,2.07],[10.5,2.42],[10.7,2.2],[10.9,2.5],[11.1,2.15],[11.25,2.95],[11.45,2.2],[11.65,2.5],[11.85,2.1],[12.05,2.45],[12.25,2.2],[12.45,2.6],[12.65,2.25],[12.85,2.45],[13.05,2.2],[13.25,2.55],[13.45,2.3],[13.7,3.1],[13.85,2.35],[14.05,2.5],[14.25,2.2],[14.45,2.35],[14.65,1.95],[14.85,2.2],[15.05,1.85],[15.25,2.0],[15.45,1.75],[15.65,1.3],[15.8,1.6],[16.0,1.5],[16.25,1.4],[16.5,1.35],[16.75,1.3],[17.0,1.25],[17.25,1.2],[17.5,1.15],[17.75,1.12],[18.0,1.1],[18.3,1.15],[18.6,1.05],[18.9,1.1],[19.2,1.0],[19.5,1.05],[19.8,1.0],[20.05,1.05],[20.25,1.0]];
const Fr_HALC13 = [[0,0.1],[0.15,1.2],[0.33,2.11],[0.45,1.5],[0.6,0.86],[0.77,0.52],[0.93,0.65],[1.09,0.78],[1.25,0.85],[1.42,0.95],[1.6,0.86],[1.75,0.39],[1.95,1.0],[2.13,0.52],[2.24,0.47],[2.35,0.69],[2.57,1.17],[2.71,3.24],[2.82,1.73],[2.95,2.16],[3.08,0.65],[3.2,2.6],[3.33,1.3],[3.5,0.43],[3.7,0.86],[3.83,2.5],[3.93,0.32],[4.1,1.08],[4.15,4.5],[4.3,1.73],[4.43,2.6],[4.58,1.3],[4.75,1.08],[4.86,2.68],[5.03,2.42],[5.19,2.16],[5.36,3.93],[5.5,2.6],[5.63,1.47],[5.8,1.81],[5.96,2.76],[6.07,3.75],[6.18,3.1],[6.34,2.93],[6.45,2.5],[6.67,2.8],[6.88,2.6],[7.1,2.5],[7.32,2.93],[7.54,3.45],[7.65,3.2],[7.81,3.5],[7.98,3.02],[8.2,2.72],[8.42,2.42],[8.63,2.8],[8.85,2.6],[9.07,2.16],[9.29,2.42],[9.5,2.68],[9.73,3.02],[9.95,2.6],[10.16,2.46],[10.38,2.11],[10.6,2.42],[10.8,2.6],[11.0,2.3],[11.2,2.5],[11.4,2.25],[11.6,2.55],[11.8,2.3],[12.0,2.5],[12.2,2.25],[12.4,2.5],[12.6,2.35],[12.8,2.65],[13.0,2.3],[13.2,2.55],[13.4,2.4],[13.6,2.6],[13.8,2.35],[14.0,2.45],[14.2,2.3],[14.4,2.4],[14.6,2.15],[14.8,2.25],[15.0,2.0],[15.2,2.1],[15.4,1.85],[15.6,1.7],[15.8,1.5],[16.0,1.55],[16.2,1.4],[16.4,1.45],[16.6,1.35],[16.8,1.3],[17.0,1.28],[17.2,1.2],[17.4,1.15],[17.47,1.1],[17.49,0.04],[17.52,1.0],[17.7,1.05],[17.9,1.02],[18.2,1.05],[18.5,1.0],[18.8,1.03],[19.1,0.98],[19.4,1.02],[19.7,1.0],[20.0,1.03],[20.1,1.0]];
const Fr_Average = [[0,0.09],[0.16,1.55],[0.27,1.34],[0.33,1.6],[0.44,1.3],[0.55,1.0],[0.66,0.86],[0.82,0.47],[1.04,0.6],[1.15,0.69],[1.31,0.78],[1.48,0.9],[1.64,0.78],[1.75,0.47],[1.86,0.78],[1.97,1.3],[2.05,1.47],[2.13,0.86],[2.3,0.73],[2.4,0.6],[2.51,0.86],[2.62,0.6],[2.71,1.81],[2.82,1.3],[2.9,2.37],[3.0,0.86],[3.11,0.69],[3.28,1.12],[3.5,0.47],[3.66,0.78],[3.77,1.51],[3.88,1.86],[3.96,1.21],[4.1,2.37],[4.18,4.5],[4.25,1.21],[4.48,1.51],[4.6,2.59],[4.75,1.3],[4.92,2.07],[5.05,4.5],[5.12,2.59],[5.36,2.8],[5.46,1.94],[5.57,2.16],[5.68,2.59],[5.8,2.03],[5.96,2.85],[6.12,3.02],[6.28,2.8],[6.45,2.5],[6.61,2.59],[6.78,2.07],[6.94,2.68],[7.1,2.5],[7.27,2.68],[7.54,3.02],[7.65,2.76],[7.87,2.68],[8.09,2.42],[8.3,2.76],[8.52,2.24],[8.74,2.68],[8.9,2.89],[9.07,2.42],[9.29,2.59],[9.5,2.42],[9.73,2.33],[9.95,2.5],[10.16,2.24],[10.5,2.33],[10.7,2.46],[10.9,2.3],[11.1,2.45],[11.3,2.25],[11.5,2.4],[11.7,2.28],[11.9,2.42],[12.1,2.25],[12.3,2.35],[12.5,2.2],[12.7,2.38],[12.9,2.27],[13.1,2.45],[13.3,2.3],[13.5,2.42],[13.7,2.35],[13.9,2.28],[13.98,2.2],[14.0,1.36],[14.05,2.25],[14.2,2.2],[14.4,2.18],[14.6,2.1],[14.8,2.05],[15.0,1.94],[15.2,1.9],[15.4,1.8],[15.6,1.72],[15.8,1.62],[16.0,1.55],[16.2,1.5],[16.4,1.45],[16.6,1.4],[16.8,1.33],[17.0,1.29],[17.2,1.24],[17.45,1.2],[17.48,4.5],[17.5,0.7],[17.55,1.1],[17.62,1.15],[17.64,4.5],[17.67,1.15],[17.9,1.15],[18.2,1.13],[18.5,1.1],[18.8,1.07],[19.1,1.05],[19.4,1.04],[19.7,1.03],[20.08,1.03],[20.1,0.13],[20.15,4.5],[20.2,1.05],[20.4,1.03],[20.6,1.05],[20.7,1.0]];

// Pore pressure parameter Bq [-]
const Bq_HALC12 = [[0,0.0],[1.0,0.0],[2.0,-0.005],[2.5,-0.01],[3.0,-0.02],[3.5,-0.025],[4.0,-0.01],[4.3,0.0],[4.6,-0.02],[4.9,-0.04],[5.1,-0.05],[5.3,-0.06],[5.5,-0.02],[5.7,0.01],[5.9,0.03],[6.1,0.04],[6.4,0.035],[6.7,0.03],[7.0,0.03],[7.3,0.05],[7.6,0.07],[7.9,0.09],[8.2,0.11],[8.5,0.13],[8.8,0.15],[9.1,0.17],[9.4,0.16],[9.7,0.18],[10.0,0.18],[10.3,0.19],[10.6,0.21],[10.9,0.2],[11.2,0.22],[11.5,0.23],[11.8,0.22],[12.1,0.24],[12.4,0.25],[12.7,0.24],[13.0,0.22],[13.3,0.19],[13.6,0.17],[13.9,0.15],[14.2,0.13],[14.5,0.1],[14.8,0.085],[15.1,0.08],[15.4,0.07],[15.6,0.06],[15.75,0.02],[15.9,0.1],[16.1,0.25],[16.3,0.43],[16.5,0.55],[16.7,0.65],[16.9,0.75],[17.1,0.82],[17.3,0.87],[17.5,0.88],[17.8,0.9],[18.1,0.92],[18.4,0.93],[18.7,0.95],[19.0,0.96],[19.3,0.95],[19.6,0.94],[19.9,0.93],[20.2,0.92],[20.4,0.94]];
const Bq_HALC13 = [[0,0.0],[1.0,0.0],[2.0,-0.005],[2.5,-0.005],[3.0,-0.01],[3.5,-0.01],[4.0,-0.005],[4.4,0.0],[4.7,-0.03],[4.9,-0.05],[5.1,-0.07],[5.3,-0.085],[5.45,-0.09],[5.6,-0.06],[5.8,-0.03],[6.0,-0.01],[6.2,0.0],[6.5,0.01],[6.8,0.015],[7.1,0.02],[7.4,0.04],[7.7,0.07],[8.0,0.09],[8.3,0.11],[8.6,0.13],[8.9,0.14],[9.2,0.15],[9.5,0.16],[9.8,0.17],[10.1,0.17],[10.4,0.19],[10.7,0.2],[11.0,0.21],[11.3,0.2],[11.6,0.22],[11.9,0.23],[12.2,0.25],[12.5,0.24],[12.8,0.23],[13.1,0.21],[13.4,0.19],[13.7,0.16],[14.0,0.14],[14.3,0.11],[14.6,0.09],[14.9,0.08],[15.2,0.075],[15.5,0.07],[15.7,0.06],[15.9,0.09],[16.1,0.16],[16.3,0.3],[16.5,0.45],[16.7,0.6],[16.9,0.72],[17.1,0.8],[17.3,0.85],[17.46,0.86],[17.48,0.0],[17.52,0.3],[17.56,0.8],[17.7,0.86],[18.0,0.87],[18.3,0.86],[18.6,0.85],[18.62,0.8],[18.65,0.86],[18.9,0.87],[19.2,0.88],[19.5,0.87],[19.8,0.88],[20.1,0.88],[20.13,0.05],[20.17,0.88],[20.3,0.9]];
const Bq_HALC14 = [[0,0.0],[1.0,0.0],[2.0,0.0],[2.15,0.0],[2.2,0.07],[2.25,0.0],[2.6,0.0],[3.0,0.0],[3.5,0.005],[4.0,0.01],[4.5,0.02],[4.8,0.03],[5.0,0.05],[5.2,0.07],[5.25,0.14],[5.32,0.06],[5.5,0.08],[5.7,0.1],[5.9,0.085],[6.1,0.11],[6.3,0.09],[6.5,0.1],[6.7,0.08],[6.9,0.07],[7.1,0.06],[7.4,0.07],[7.7,0.1],[8.0,0.12],[8.3,0.155],[8.5,0.13],[8.7,0.15],[9.0,0.16],[9.3,0.17],[9.6,0.16],[9.9,0.18],[10.2,0.19],[10.5,0.2],[10.8,0.21],[11.1,0.2],[11.4,0.22],[11.7,0.23],[12.0,0.24],[12.3,0.25],[12.6,0.26],[12.9,0.22],[13.2,0.19],[13.38,0.16],[13.42,0.04],[13.5,0.15],[13.8,0.14],[14.1,0.12],[14.4,0.09],[14.7,0.07],[15.0,0.06],[15.3,0.065],[15.55,0.06],[15.65,0.03],[15.75,0.2],[15.85,0.5],[15.95,0.8],[16.05,1.0],[16.3,1.0],[16.5,0.98],[16.8,1.0],[17.0,0.95],[17.2,1.0],[17.4,0.9],[17.6,1.0],[17.8,0.92],[18.0,0.98],[18.2,0.86],[18.4,0.97],[18.6,0.82],[18.7,0.95],[18.9,0.88],[19.1,1.0],[19.3,0.92],[19.5,0.98],[19.7,0.9],[19.9,1.0],[20.1,0.95],[20.25,1.0],[20.4,0.98],[20.5,1.0]];
const Bq_Average = [[0,0.0],[1.0,0.0],[2.0,0.0],[2.5,-0.005],[3.0,-0.01],[3.5,-0.01],[4.0,0.0],[4.5,0.0],[4.8,-0.01],[5.1,-0.02],[5.4,-0.01],[5.7,0.02],[6.0,0.035],[6.3,0.04],[6.6,0.035],[6.9,0.035],[7.2,0.04],[7.5,0.06],[7.8,0.08],[8.0,0.11],[8.3,0.13],[8.6,0.14],[8.9,0.15],[9.2,0.16],[9.5,0.16],[9.8,0.17],[10.1,0.18],[10.4,0.19],[10.7,0.2],[11.0,0.19],[11.3,0.21],[11.6,0.22],[11.9,0.235],[12.2,0.24],[12.5,0.25],[12.8,0.23],[13.1,0.2],[13.4,0.18],[13.7,0.16],[13.98,0.14],[14.02,-0.1],[14.06,0.14],[14.3,0.12],[14.6,0.1],[14.9,0.09],[15.2,0.08],[15.5,0.075],[15.66,0.06],[15.7,-0.02],[15.75,0.1],[16.0,0.24],[16.2,0.37],[16.5,0.53],[16.8,0.69],[17.0,0.8],[17.2,0.84],[17.46,0.86],[17.48,0.66],[17.52,0.86],[17.8,0.88],[18.1,0.89],[18.4,0.9],[18.7,0.89],[19.0,0.9],[19.3,0.91],[19.6,0.9],[19.9,0.9],[20.12,0.88],[20.15,0.8],[20.2,0.9],[20.4,0.87],[20.6,0.87]];

// Axis ticks
const depthTicks = [0,2,4,6,8,10,12,14,16,18,20,22];
const qTicks = [0,0.5,1.0,1.5,2.0,2.5];
const fsTicks = [0,0.01,0.02,0.03,0.04];
const uTicks = [-0.1,0.1,0.3,0.5,0.7,0.9];
const FrTicks = [0,1,2,3,4];
const seriesNames = ["HALC12","HALC13","HALC14","Average"];
const seriesColors = ["#ff00ff","#0000ff","#ff0000","#000000"];

// ---------------- RENDER ----------------
const FONT = "DejaVu Sans";
const ML = 55, MR = 14, MT = 46, FH = 671;
const chart = document.getElementById("chart");
const fmt1 = d3.format(".1f"), fmt2 = d3.format(".2f"), fmt0 = d3.format("d");
function rng(a, b, s) { const n = Math.round((b - a) / s); return Array.from({length: n + 1}, (_, i) => +(a + i * s).toFixed(6)); }
const yMinor = rng(0, 22, 0.5);

function panel(cfg) {
  const fw = cfg.fw, MB = cfg.mb;
  const lines = cfg.series.map(s => Plot.line(s.data, {x: d => d[1], y: d => d[0], stroke: s.color, strokeWidth: s.color === "#000000" ? 2.4 : 1.9, clip: true}));
  const p = Plot.plot({
    width: ML + fw + MR, height: MT + FH + MB,
    marginLeft: ML, marginRight: MR, marginTop: MT, marginBottom: MB,
    style: {fontFamily: FONT, fontSize: "11px", color: "black", background: "transparent", overflow: "visible"},
    x: {domain: cfg.xDomain, label: null},
    y: {domain: [0, 22], reverse: true, label: null},
    marks: [
      Plot.ruleX(cfg.xMinor, {stroke: "#cfcfcf", strokeWidth: 1.4}),
      Plot.ruleY(yMinor, {stroke: "#cfcfcf", strokeWidth: 1.4}),
      Plot.ruleX(cfg.xMajor, {stroke: "#8a8a8a", strokeWidth: 1.3}),
      Plot.ruleY(depthTicks, {stroke: "#8a8a8a", strokeWidth: 1.3}),
      ...lines,
      Plot.frame({stroke: "black", strokeWidth: 1.1}),
      Plot.axisX({anchor: "top", ticks: cfg.xMinor, tickSize: 2, tickFormat: () => "", label: null}),
      Plot.axisX({anchor: "top", ticks: cfg.xMajor, tickSize: 3.5, tickPadding: 7, tickFormat: cfg.xFormat, fontSize: 11, label: null}),
      Plot.axisY({anchor: "left", ticks: yMinor, tickSize: 2, tickFormat: () => "", label: null}),
      Plot.axisY({anchor: "left", ticks: depthTicks, tickSize: 3.5, tickPadding: 4.5, tickFormat: d => String(d), fontSize: 11, label: null})
    ]
  });
  p.style.left = (cfg.fx - ML) + "px";
  p.style.top = (cfg.fy - MT) + "px";
  const svg = d3.select(p);
  // title with subscript
  const t = svg.append("text").attr("x", ML + fw / 2).attr("y", MT - 24)
    .attr("text-anchor", "middle").attr("font-family", FONT).attr("font-size", 16.4).attr("fill", "black");
  t.append("tspan").text(cfg.title[0]);
  t.append("tspan").attr("font-size", 11.5).attr("dy", 3.5).text(cfg.title[1]);
  t.append("tspan").attr("dy", -3.5).text(cfg.title[2]);
  if (cfg.ylabel) {
    svg.append("text").attr("transform", `translate(${cfg.fx - 31},${MT + FH / 2}) rotate(-90)`)
      .attr("text-anchor", "middle").attr("font-family", FONT).attr("font-size", 16.4).attr("fill", "black")
      .text("Depth below ground surface [m]");
  }
  if (cfg.caption) {
    svg.append("text").attr("x", ML + 1).attr("y", MT + 702).attr("text-anchor", "start").attr("font-family", FONT)
      .attr("font-size", 16.4).attr("fill", "black").text(cfg.caption);
  }
  if (cfg.legend) {
    const g = svg.append("g").attr("transform", `translate(${ML + 192},${MT})`);
    g.append("rect").attr("x", 0).attr("y", 6.7).attr("width", 110).attr("height", 108).attr("rx", 3)
      .attr("fill", "white").attr("fill-opacity", 0.85).attr("stroke", "#cccccc").attr("stroke-width", 1);
    const entries = seriesNames.map((n, i) => ({name: n, color: seriesColors[i]})).concat([{name: "u", sub: "0", color: "#00ffff"}]);
    entries.forEach((e, i) => {
      const yy = 18 + i * 21;
      g.append("line").attr("x1", 6).attr("x2", 35).attr("y1", yy).attr("y2", yy)
        .attr("stroke", e.color).attr("stroke-width", e.color === "#000000" ? 2.4 : 1.9);
      const tx = g.append("text").attr("x", 46).attr("y", yy + 5).attr("text-anchor", "start").attr("font-family", FONT)
        .attr("font-size", 13.9).attr("fill", "black");
      tx.append("tspan").text(e.name);
      if (e.sub) tx.append("tspan").attr("font-size", 9.7).attr("dy", 3).text(e.sub);
    });
  }
  chart.appendChild(p);
}

const S = (arrs) => {
  const out = [];
  arrs.forEach((a, i) => { if (a) out.push({data: a, color: seriesColors[i]}); });
  return out;
};

panel({fx: 55, fy: 46, fw: 309, mb: 40, xDomain: [0, 2.5], xMajor: qTicks, xMinor: rng(0, 2.5, 0.1), xFormat: fmt1,
  series: S([qc_HALC12, qc_HALC13, qc_HALC14, qc_Average]), title: ["Cone resistance, q", "c", " [MPa]"], ylabel: true, caption: "Cone type 1"});
panel({fx: 425, fy: 46, fw: 309, mb: 40, xDomain: [0, 0.04], xMajor: fsTicks, xMinor: rng(0, 0.04, 0.002), xFormat: fmt2,
  series: S([fs_HALC12, fs_HALC13, null, fs_Average]), title: ["Sleeve friction, f", "s", " [MPa]"]});
panel({fx: 796, fy: 46, fw: 309, mb: 40, xDomain: [-0.1, 0.9], xMajor: uTicks, xMinor: rng(-0.1, 0.9, 0.05), xFormat: fmt1,
  series: S([u2_HALC12, u2_HALC13, u2_HALC14, u2_Average]).concat([{data: u0_line, color: "#00ffff"}]),
  title: ["Pore pressure behind cone, u", "2", " [MPa]"], legend: true});
panel({fx: 55, fy: 852, fw: 309, mb: 5, xDomain: [0, 2.5], xMajor: qTicks, xMinor: rng(0, 2.5, 0.1), xFormat: fmt1,
  series: S([qt_HALC12, qt_HALC13, qt_HALC14, qt_Average]), title: ["Corrected cone resistance, q", "t", " [MPa]"], ylabel: true});
panel({fx: 425, fy: 852, fw: 309, mb: 5, xDomain: [0, 4], xMajor: FrTicks, xMinor: rng(0, 4, 0.2), xFormat: fmt0,
  series: S([Fr_HALC12, Fr_HALC13, null, Fr_Average]), title: ["Normalized friction ratio, F", "r", " [%]"]});
panel({fx: 796, fy: 852, fw: 309, mb: 5, xDomain: [-0.1, 0.9], xMajor: uTicks, xMinor: rng(-0.1, 0.9, 0.05), xFormat: fmt1,
  series: S([Bq_HALC12, Bq_HALC13, Bq_HALC14, Bq_Average]), title: ["Pore pressure parameter, B", "q", " [-]"]});
</script></body></html>
